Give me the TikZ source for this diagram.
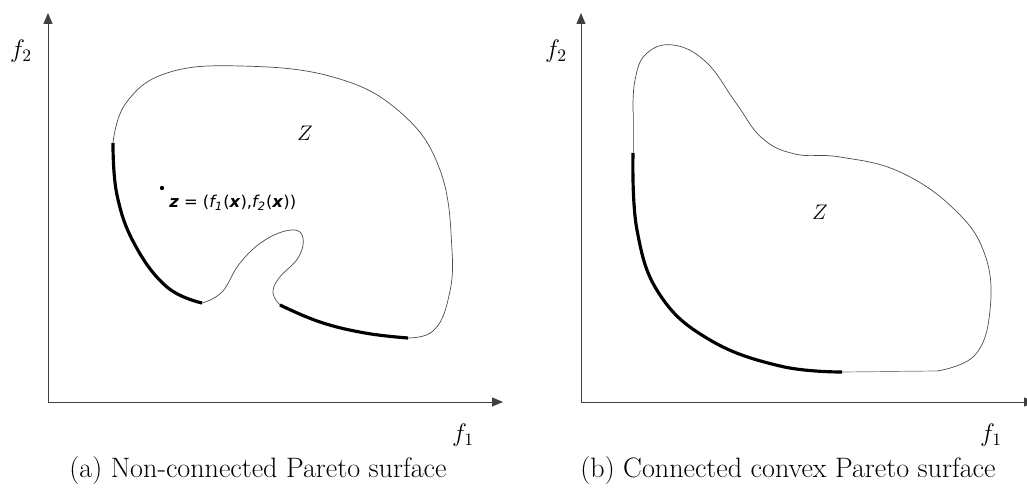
\documentclass[tikz,border=0pt]{standalone}
\usepackage{fontspec}
\usepackage{tikz}
\usetikzlibrary{arrows.meta}
\newfontfamily\vfont{DejaVu Sans}

\begin{document}
\begin{tikzpicture}[x=0.02cm, y=-0.02cm,
	axis/.style={draw=black!75, line width=0.5pt, -{Triangle[length=2.2mm, width=1.8mm]}},
	edge/.style={draw=black!70, line width=0.4pt},
	front/.style={draw=black, line width=1.8pt},
	lbl/.style={font=\fontsize{14}{16}\selectfont},
	caption/.style={font=\fontsize{16}{19}\selectfont}]
	\useasboundingbox (0,0) rectangle (1027,493);
	% (a) axes
	\coordinate (oa) at (48,402);
	\coordinate (ya) at (48,13);
	\coordinate (xa) at (503,402);
	\draw[axis] (oa) -- (ya);
	\draw[axis] (oa) -- (xa);
	\node[lbl] (f2a) at (21,51) {$f_2$};
	\node[lbl] (f1a) at (463,435) {$f_1$};
	% (a) region: thick parts are the Pareto fronts
	\draw[front] plot[smooth, tension=0.7] coordinates {(113,143) (117,195) (135,245) (167,287) (202,303)};
	\draw[edge] plot[smooth, tension=0.7] coordinates {(202,303) (222,292) (240,263) (265,240)
		(292,230) (303,238) (298,258) (279,278) (273,293) (280,305)};
	\draw[front] plot[smooth, tension=0.7] coordinates {(280,305) (320,322) (365,333) (408,338)};
	\draw[edge] plot[smooth, tension=0.7] coordinates {(408,338) (433,331) (448,300) (452,250)
		(440,170) (400,112) (333,77) (240,66) (167,73) (126,103) (113,143)};
	\node[font=\fontsize{12}{14}\selectfont] (za) at (305,133) {$Z$};
	\fill (162,188) circle (2.2);
	\node[anchor=west, inner sep=0pt, font=\vfont\fontsize{9.3}{11}\selectfont] (pta) at (169,203)
		{\textbf{\textit{z}} = (\textit{f\textsubscript{1}}(\textbf{\textit{x}}),\textit{f\textsubscript{2}}(\textbf{\textit{x}}))};
	\node[caption] (capa) at (258,470) {(a) Non-connected Pareto surface};
	% (b) axes
	\coordinate (ob) at (581,402);
	\coordinate (yb) at (581,13);
	\coordinate (xb) at (1035,402);
	\draw[axis] (ob) -- (yb);
	\draw[axis] (ob) -- (xb);
	\node[lbl] (f2b) at (556,51) {$f_2$};
	\node[lbl] (f1b) at (991,435) {$f_1$};
	% (b) region: one convex front
	\draw[front] plot[smooth, tension=0.7] coordinates {(633,153) (637,230) (660,295) (710,340) (780,366) (842,372)};
	\draw[edge, black!50] (842,372) -- (937,371);
	\draw[edge] plot[smooth, tension=0.7] coordinates {(937,371) (975,355) (990,310) (985,255)
		(955,210) (900,172) (840,157) (795,154) (762,138) (736,103) (706,62) (673,45) (646,54) (635,80) (633,112)};
	\draw[edge, black!50] (633,112) -- (633,153);
	\node[font=\fontsize{12}{14}\selectfont] (zb) at (820,212) {$Z$};
	\node[caption] (capb) at (788,470) {(b) Connected convex Pareto surface};
\end{tikzpicture}
\end{document}
